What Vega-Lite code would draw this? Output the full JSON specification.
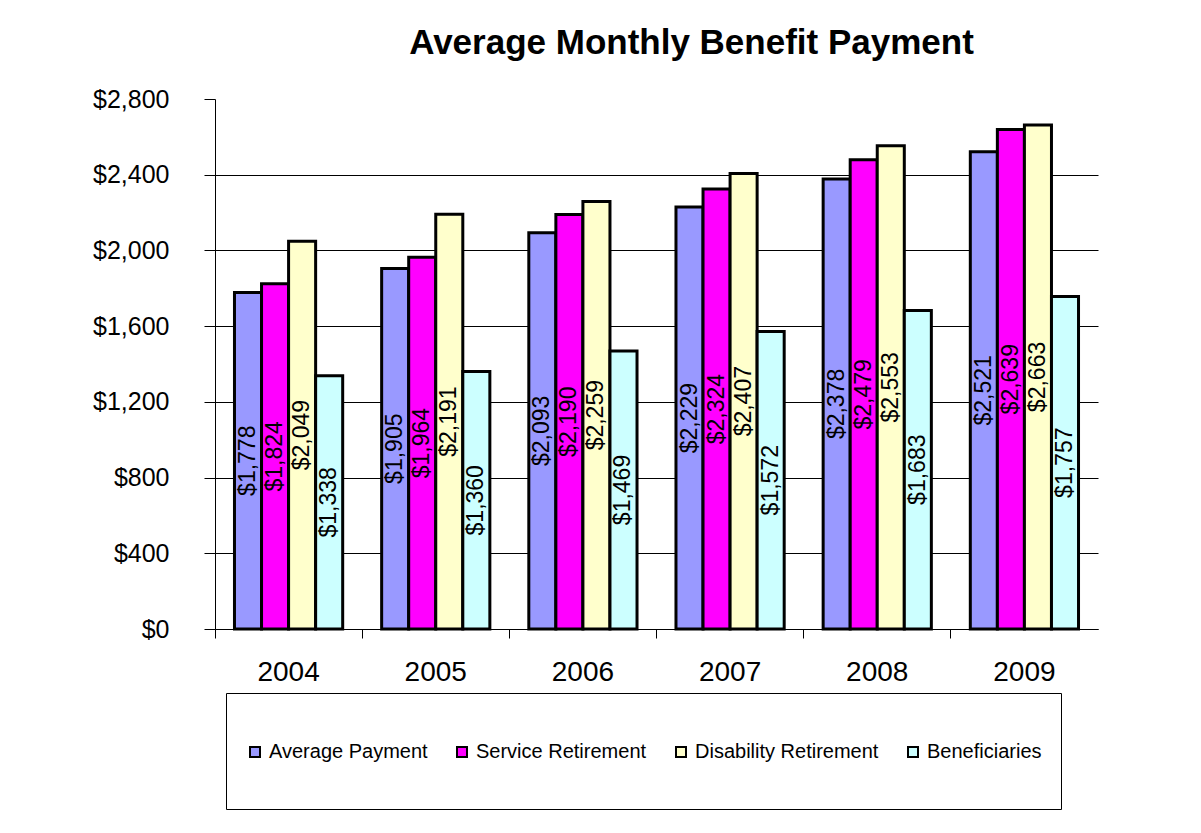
{
  "$schema": "https://vega.github.io/schema/vega-lite/v6.json",
  "width": 883,
  "height": 530,
  "autosize": {"type": "none"},
  "padding": {"left": 215, "top": 99, "right": 103, "bottom": 204},
  "background": "white",
  "config": {"font": "Liberation Sans", "view": {"stroke": null}},
  "title": {"text": "Average Monthly Benefit Payment", "fontSize": 35, "fontWeight": "bold", "color": "black", "anchor": "middle", "dx": 35, "offset": 26},
  "data": {"values": [
    {"year": "2004", "series": "Average Payment", "value": 1778},
    {"year": "2004", "series": "Service Retirement", "value": 1824},
    {"year": "2004", "series": "Disability Retirement", "value": 2049},
    {"year": "2004", "series": "Beneficiaries", "value": 1338},
    {"year": "2005", "series": "Average Payment", "value": 1905},
    {"year": "2005", "series": "Service Retirement", "value": 1964},
    {"year": "2005", "series": "Disability Retirement", "value": 2191},
    {"year": "2005", "series": "Beneficiaries", "value": 1360},
    {"year": "2006", "series": "Average Payment", "value": 2093},
    {"year": "2006", "series": "Service Retirement", "value": 2190},
    {"year": "2006", "series": "Disability Retirement", "value": 2259},
    {"year": "2006", "series": "Beneficiaries", "value": 1469},
    {"year": "2007", "series": "Average Payment", "value": 2229},
    {"year": "2007", "series": "Service Retirement", "value": 2324},
    {"year": "2007", "series": "Disability Retirement", "value": 2407},
    {"year": "2007", "series": "Beneficiaries", "value": 1572},
    {"year": "2008", "series": "Average Payment", "value": 2378},
    {"year": "2008", "series": "Service Retirement", "value": 2479},
    {"year": "2008", "series": "Disability Retirement", "value": 2553},
    {"year": "2008", "series": "Beneficiaries", "value": 1683},
    {"year": "2009", "series": "Average Payment", "value": 2521},
    {"year": "2009", "series": "Service Retirement", "value": 2639},
    {"year": "2009", "series": "Disability Retirement", "value": 2663},
    {"year": "2009", "series": "Beneficiaries", "value": 1757}
  ]},
  "layer": [
    {
      "mark": {"type": "bar", "stroke": "black", "strokeWidth": 3},
      "encoding": {
        "x": {"field": "year", "type": "nominal", "scale": {"paddingInner": 0, "paddingOuter": 0},
              "axis": {"title": null, "labelAngle": 0, "labelFontSize": 28, "labelColor": "black", "labelPadding": 20,
                       "bandPosition": 0, "tickSize": 9, "tickColor": "black", "domainColor": "black", "grid": false}},
        "xOffset": {"field": "series", "type": "nominal", "scale": {"domain": ["Average Payment", "Service Retirement", "Disability Retirement", "Beneficiaries"], "paddingInner": 0, "paddingOuter": 0.72}},
        "y": {"field": "value", "type": "quantitative", "scale": {"domain": [0, 2800], "nice": false},
              "axis": {"title": null, "values": [0, 400, 800, 1200, 1600, 2000, 2400, 2800], "format": "$,.0f",
                       "labelFontSize": 25, "labelColor": "black", "labelPadding": 35, "tickSize": 11, "tickColor": "black",
                       "domainColor": "black", "grid": true, "gridColor": "black",
                       "gridOpacity": {"condition": {"test": "datum.value == 2800", "value": 0}, "value": 1}}},
        "color": {"field": "series", "type": "nominal",
                  "scale": {"domain": ["Average Payment", "Service Retirement", "Disability Retirement", "Beneficiaries"],
                            "range": ["#9999FF", "#FF00FF", "#FFFFCC", "#CCFFFF"]},
                  "legend": {"orient": "none", "legendX": 11, "legendY": 594, "direction": "horizontal",
                             "title": " ", "titleFontSize": 10, "titlePadding": 20,
                             "strokeColor": "black", "padding": 19, "labelFontSize": 20, "labelColor": "black",
                             "symbolType": "square", "symbolSize": 100, "symbolStrokeColor": "black", "symbolStrokeWidth": 2,
                             "columnPadding": 24, "labelLimit": 0, "labelExpr": "[datum.label, '']",
                             "encode": {"labels": {"update": {"lineHeight": {"value": 28}}}}}}
      }
    },
    {
      "mark": {"type": "text", "angle": 270, "fontSize": 23, "color": "black", "baseline": "middle", "align": "center"},
      "encoding": {
        "x": {"field": "year", "type": "nominal"},
        "xOffset": {"field": "series", "type": "nominal"},
        "y": {"field": "value", "type": "quantitative", "scale": {"domain": [0, 5600], "nice": false}, "axis": null},
        "text": {"field": "value", "type": "quantitative", "format": "$,.0f"}
      }
    }
  ],
  "resolve": {"scale": {"y": "independent"}}
}
